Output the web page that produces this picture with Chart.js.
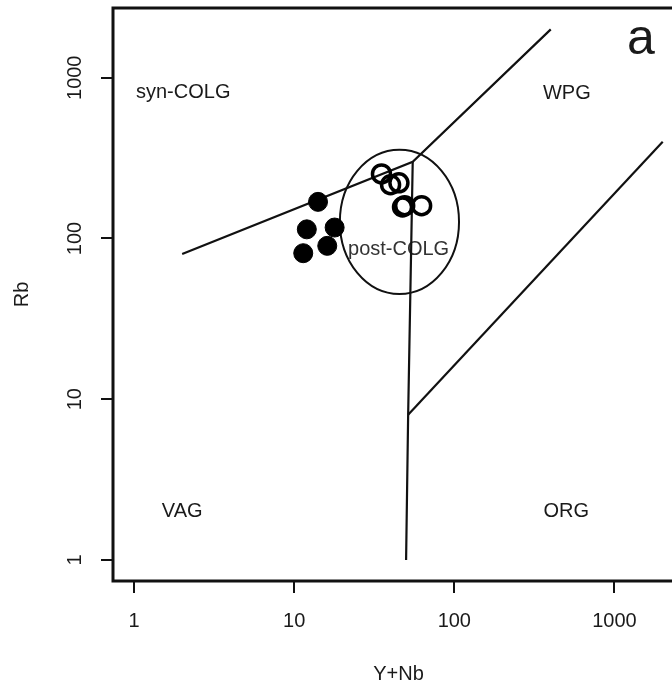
<!DOCTYPE html>
<html>
<head>
<meta charset="utf-8">
<script src="https://cdn.jsdelivr.net/npm/chart.js@4"></script>
<style>
  html, body { margin: 0; padding: 0; background: #fff; overflow: hidden; }
  canvas { display: block; }
</style>
</head>
<body>
<canvas id="pearceChart" width="700" height="687"></canvas>
<script>
// Rb vs Y+Nb discrimination diagram (Pearce et al. style)

// Sample data
const filledX = [14.1, 12.0, 17.9, 11.4, 16.1];
const filledY = [169, 114, 117, 81, 90];
const openX = [35.1, 40.0, 45.1, 47.5, 49.0, 62.5];
const openY = [252, 216, 222, 157, 160, 160];

// Field boundaries
const boundaryUpperX = [2, 55, 400];
const boundaryUpperY = [80, 300, 2000];
const boundaryVerticalX = [55, 51.5, 50];
const boundaryVerticalY = [300, 8, 1];
const boundaryOrgX = [51.5, 2000];
const boundaryOrgY = [8, 400];

// post-COLG ellipse (data extents)
const ellipseX = [19.3, 107];
const ellipseY = [45.2, 356];

// Field labels
const fieldNames = ['syn-COLG', 'WPG', 'VAG', 'ORG', 'post-COLG'];
const fieldX = [2.03, 504, 2.0, 500, 44.9];
const fieldY = [805, 795, 2.0, 2.0, 86];

// Axis ticks and range
const tickValues = [1, 10, 100, 1000];
const tickLabels = ['1', '10', '100', '1000'];
const axisMin = 0.74;
const axisMax = 2716;

const toPoints = (xs, ys) => xs.map((x, i) => ({ x: x, y: ys[i] }));

const FONT = '"Liberation Sans", Arial, Helvetica, sans-serif';
const TEXT = '#1a1a1a';

function lineSet(xs, ys) {
    return {
        type: 'line',
        data: toPoints(xs, ys),
        borderColor: '#111',
        borderWidth: 2.2,
        pointRadius: 0,
        fill: false,
        tension: 0,
        order: 2
    };
}

const overlayPlugin = {
    id: 'overlay',
    beforeDatasetsDraw(chart) {
        const ctx = chart.ctx;
        const xs = chart.scales.x, ys = chart.scales.y;
        // ellipse
        const x0 = xs.getPixelForValue(ellipseX[0]), x1 = xs.getPixelForValue(ellipseX[1]);
        const y0 = ys.getPixelForValue(ellipseY[0]), y1 = ys.getPixelForValue(ellipseY[1]);
        ctx.save();
        ctx.strokeStyle = '#111';
        ctx.lineWidth = 2;
        ctx.beginPath();
        ctx.ellipse((x0 + x1) / 2, (y0 + y1) / 2, Math.abs(x1 - x0) / 2, Math.abs(y1 - y0) / 2, 0, 0, Math.PI * 2);
        ctx.stroke();
        // field labels
        ctx.font = '20px ' + FONT;
        ctx.textAlign = 'center';
        ctx.textBaseline = 'middle';
        fieldNames.forEach((name, i) => {
            ctx.fillStyle = name === 'post-COLG' ? '#333' : TEXT;
            ctx.fillText(name, xs.getPixelForValue(fieldX[i]), ys.getPixelForValue(fieldY[i]));
        });
        ctx.restore();
    },
    afterDraw(chart) {
        const ctx = chart.ctx;
        const area = chart.chartArea;
        const xs = chart.scales.x, ys = chart.scales.y;
        ctx.save();
        // box
        ctx.strokeStyle = '#111';
        ctx.lineWidth = 3;
        ctx.strokeRect(area.left, area.top, area.right - area.left, area.bottom - area.top);

        ctx.fillStyle = TEXT;
        ctx.font = '20px ' + FONT;
        ctx.textAlign = 'center';
        ctx.textBaseline = 'middle';
        // x tick labels
        tickValues.forEach((v, i) => {
            ctx.fillText(tickLabels[i], xs.getPixelForValue(v), 621);
        });
        // y tick labels (rotated)
        tickValues.forEach((v, i) => {
            ctx.save();
            ctx.translate(75, ys.getPixelForValue(v));
            ctx.rotate(-Math.PI / 2);
            ctx.fillText(tickLabels[i], 0, 0);
            ctx.restore();
        });
        // axis titles
        ctx.fillText('Y+Nb', (area.left + area.right) / 2, 674);
        ctx.save();
        ctx.translate(22, (area.top + area.bottom) / 2);
        ctx.rotate(-Math.PI / 2);
        ctx.fillText('Rb', 0, 0);
        ctx.restore();
        // panel letter
        ctx.font = '50px ' + FONT;
        ctx.fillText('a', xs.getPixelForValue(1460), ys.getPixelForValue(1700));
        ctx.restore();
    }
};

const axisCommon = {
    type: 'logarithmic',
    min: axisMin,
    max: axisMax,
    afterBuildTicks(scale) {
        scale.ticks = tickValues.map(v => ({ value: v }));
        scale.min = axisMin;
        scale.max = axisMax;
    },
    ticks: { display: false },
    grid: {
        display: true,
        drawOnChartArea: false,
        drawTicks: true,
        tickLength: 12,
        tickColor: '#111',
        lineWidth: 2
    },
    border: { display: false },
    title: { display: false }
};

const ctx = document.getElementById('pearceChart').getContext('2d');
window.myChart = new Chart(ctx, {
    type: 'scatter',
    data: {
        datasets: [
            lineSet(boundaryUpperX, boundaryUpperY),
            lineSet(boundaryVerticalX, boundaryVerticalY),
            lineSet(boundaryOrgX, boundaryOrgY),
            {
                data: toPoints(filledX, filledY),
                backgroundColor: '#000',
                borderColor: '#000',
                borderWidth: 1,
                pointRadius: 9.5,
                order: 1
            },
            {
                data: toPoints(openX, openY),
                backgroundColor: 'rgba(0,0,0,0)',
                borderColor: '#000',
                borderWidth: 3.5,
                pointRadius: 9,
                order: 0
            }
        ]
    },
    options: {
        responsive: false,
        animation: false,
        layout: { autoPadding: false, padding: { top: 8, right: 16, left: 0, bottom: 0 } },
        plugins: {
            legend: { display: false },
            tooltip: { enabled: false }
        },
        scales: {
            x: Object.assign({}, axisCommon, {
                afterFit(scale) { scale.height = 106; }
            }),
            y: Object.assign({}, axisCommon, {
                afterFit(scale) { scale.width = 113; }
            })
        }
    },
    plugins: [overlayPlugin]
});
</script>
</body>
</html>
